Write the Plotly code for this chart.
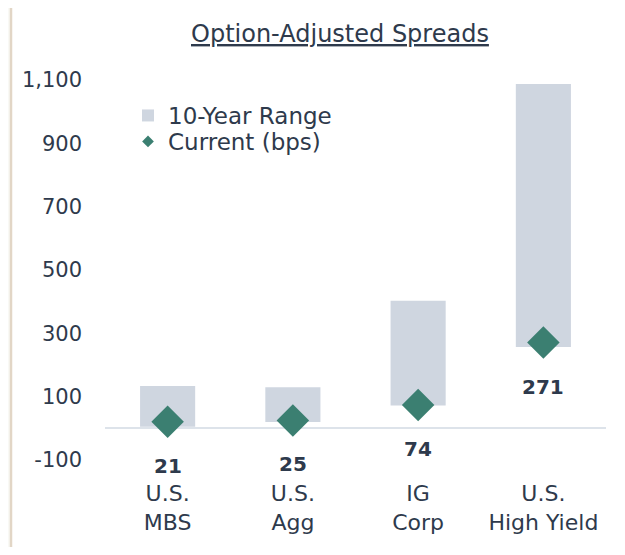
import plotly.graph_objects as go

categories = ["U.S.<br>MBS", "U.S.<br>Agg", "IG<br>Corp", "U.S.<br>High Yield"]
range_min = [5, 20, 72, 257]
range_max = [134, 130, 403, 1087]
current = [21, 25, 74, 271]
ytick_vals = [-100, 100, 300, 500, 700, 900, 1100]
ytick_text = ["-100", "100", "300", "500", "700", "900", "1,100"]

FONT = "DejaVu Sans"
TXT = "#2e3a4c"
BAR = "#cfd6e0"
GREEN = "#3b7f71"

W, H = 609, 539
L, R, T, B = 97, 11, 62, 69
pw, ph = W - L - R, H - T - B

def px_x(x):
    return (x - L) / pw

def px_y(y):
    return (H - B - y) / ph

fig = go.Figure()
fig.add_trace(go.Bar(
    x=categories,
    y=[hi - lo for lo, hi in zip(range_min, range_max)],
    base=range_min,
    marker=dict(color=BAR, line=dict(width=0)),
    width=0.44,
    name="10-Year Range",
    hoverinfo="skip",
    legend="legend",
))
fig.add_trace(go.Scatter(
    x=categories, y=current, mode="markers",
    marker=dict(symbol="diamond", size=25, color=GREEN),
    showlegend=False,
))
fig.add_trace(go.Scatter(
    x=[None], y=[None], mode="markers",
    marker=dict(symbol="diamond", size=9, color=GREEN),
    name="Current (bps)",
    legend="legend2",
))

for c, v in zip(categories, current):
    fig.add_annotation(x=c, y=v, text=f"<b>{v}</b>", showarrow=False,
                       yshift=-44, font=dict(family=FONT, size=20, color=TXT))

fig.add_annotation(x=px_x(332), y=px_y(26), xref="paper", yref="paper",
                   xanchor="center", yanchor="middle",
                   text="<u>Option-Adjusted Spreads</u>", showarrow=False,
                   font=dict(family=FONT, size=24, color=TXT))

fig.add_shape(type="rect", xref="paper", yref="paper",
              x0=px_x(3), x1=px_x(613), y0=px_y(600), y1=px_y(-3),
              line=dict(color="#e2d6c6", width=2.5), fillcolor="white", layer="below")

legend_common = dict(xanchor="left", yanchor="top", bgcolor="rgba(0,0,0,0)",
                     font=dict(family=FONT, size=23, color=TXT), itemsizing="trace")

fig.update_layout(
    width=W, height=H,
    margin=dict(l=L, r=R, t=T, b=B),
    paper_bgcolor="#f9f9f5",
    plot_bgcolor="rgba(0,0,0,0)",
    font=dict(family=FONT, color=TXT),
    showlegend=True,
    legend=dict(x=px_x(120), y=px_y(86), **legend_common),
    legend2=dict(x=px_x(120), y=px_y(112), **legend_common),
    bargap=0.56,
)
fig.update_xaxes(showgrid=False, showline=False, ticks="",
                 tickfont=dict(family=FONT, size=22, color=TXT))
fig.update_yaxes(range=[-156.8, 1131.6], showgrid=False, showline=False,
                 zeroline=True, zerolinecolor="#dde3ea", zerolinewidth=2,
                 tickvals=ytick_vals, ticktext=ytick_text, ticks="",
                 ticklabelstandoff=22,
                 tickfont=dict(family=FONT, size=21, color=TXT))

fig.write_html("out.html")
